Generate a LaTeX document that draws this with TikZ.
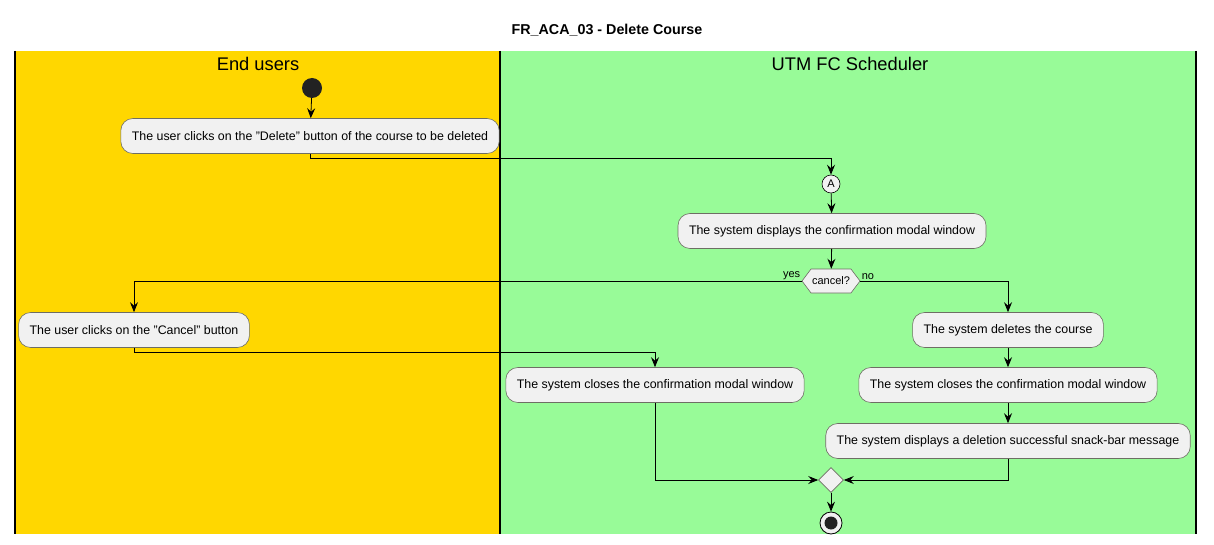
\documentclass[tikz,border=0pt]{standalone}
\usepackage{fontspec}
\setmainfont{Liberation Sans}
\usetikzlibrary{arrows.meta,shapes.geometric,shapes.symbols}
\definecolor{lanea}{RGB}{255, 215, 0}
\definecolor{laneb}{RGB}{152, 251, 152}
\definecolor{boxfill}{RGB}{241, 241, 241}
\definecolor{boxline}{RGB}{110, 110, 100}
\definecolor{dot}{RGB}{34, 34, 34}
\tikzset{
	act/.style={draw=boxline, fill=boxfill, line width=0.6pt, rounded corners=12pt,
		inner xsep=11pt, minimum height=35pt, font=\fontsize{12.4}{14}\selectfont},
	arr/.style={draw=black, line width=0.8pt, -{Stealth[length=10pt, width=8pt, inset=3.5pt]}},
	lab/.style={font=\fontsize{11}{13}\selectfont, inner sep=1pt}
}

\begin{document}
\begin{tikzpicture}[x=1pt, y=-1pt]
			\useasboundingbox (0,0) rectangle (1214,545);

			% couloirs
			\foreach \xa/\xb/\col in {15/500/lanea, 500/1196/laneb} {
				\fill[\col] (\xa,51) rectangle (\xb,534);
			}
			\foreach \x in {15,500,1196} {
				\draw[line width=1.2pt] (\x,51) -- (\x,534);
			}
			\node[font=\bfseries\fontsize{14.3}{16}\selectfont] (title) at (607,30) {FR\_ACA\_03 - Delete Course};
			\node[font=\fontsize{18.3}{21}\selectfont] (lanetitlea) at (258,64) {End users};
			\node[font=\fontsize{18.3}{21}\selectfont] (lanetitleb) at (850,64) {UTM FC Scheduler};

			% noeuds
			\node[circle, fill=dot, minimum size=20pt, inner sep=0pt] (start) at (312,88) {};
			\node[act] (clickdel) at (310,136) {The user clicks on the "Delete" button of the course to be deleted};
			\node[circle, draw=black, fill=boxfill, line width=0.6pt, minimum size=18pt, inner sep=0pt, lab] (conA) at (831,184) {A};
			\node[act] (showmodal) at (832,231) {The system displays the confirmation modal window};
			\node[signal, signal to=west and east, signal pointer angle=106, draw=boxline, fill=boxfill,
				line width=0.6pt, minimum height=24pt, inner xsep=2pt, inner ysep=0pt, lab] (cancel) at (831,281) {cancel?};
			\node[act] (clickcancel) at (134,330) {The user clicks on the "Cancel" button};
			\node[act] (closea) at (655,385) {The system closes the confirmation modal window};
			\node[act] (delcourse) at (1008,330) {The system deletes the course};
			\node[act] (closeb) at (1008,385) {The system closes the confirmation modal window};
			\node[act] (snackbar) at (1008,441) {The system displays a deletion successful snack-bar message};
			\node[diamond, draw=boxline, fill=boxfill, line width=0.6pt, minimum size=25pt, inner sep=0pt] (merge) at (831,480) {};
			\node[circle, draw=black, fill=boxfill, line width=0.8pt, minimum size=22pt, inner sep=0pt] (stop) at (831,523) {};
			\node[circle, fill=dot, minimum size=13pt, inner sep=0pt] (stopdot) at (stop) {};

			% fleches
			\draw[arr] (start) -- (clickdel);
			\draw[arr] (clickdel.south) -- ++(0,5) -| (conA);
			\draw[arr] (conA) -- (showmodal);
			\draw[arr] (showmodal) -- (cancel);
			\draw[arr] (cancel.west) -| (clickcancel) node[pos=0, above left, lab] {yes};
			\draw[arr] (cancel.east) -| (delcourse) node[pos=0, above right, lab] {no};
			\draw[arr] (clickcancel.south) -- ++(0,5) -| (closea);
			\draw[arr] (delcourse) -- (closeb);
			\draw[arr] (closeb) -- (snackbar);
			\draw[arr] (closea) |- (merge);
			\draw[arr] (snackbar) |- (merge);
			\draw[arr] (merge) -- (stop);
\end{tikzpicture}
\end{document}
